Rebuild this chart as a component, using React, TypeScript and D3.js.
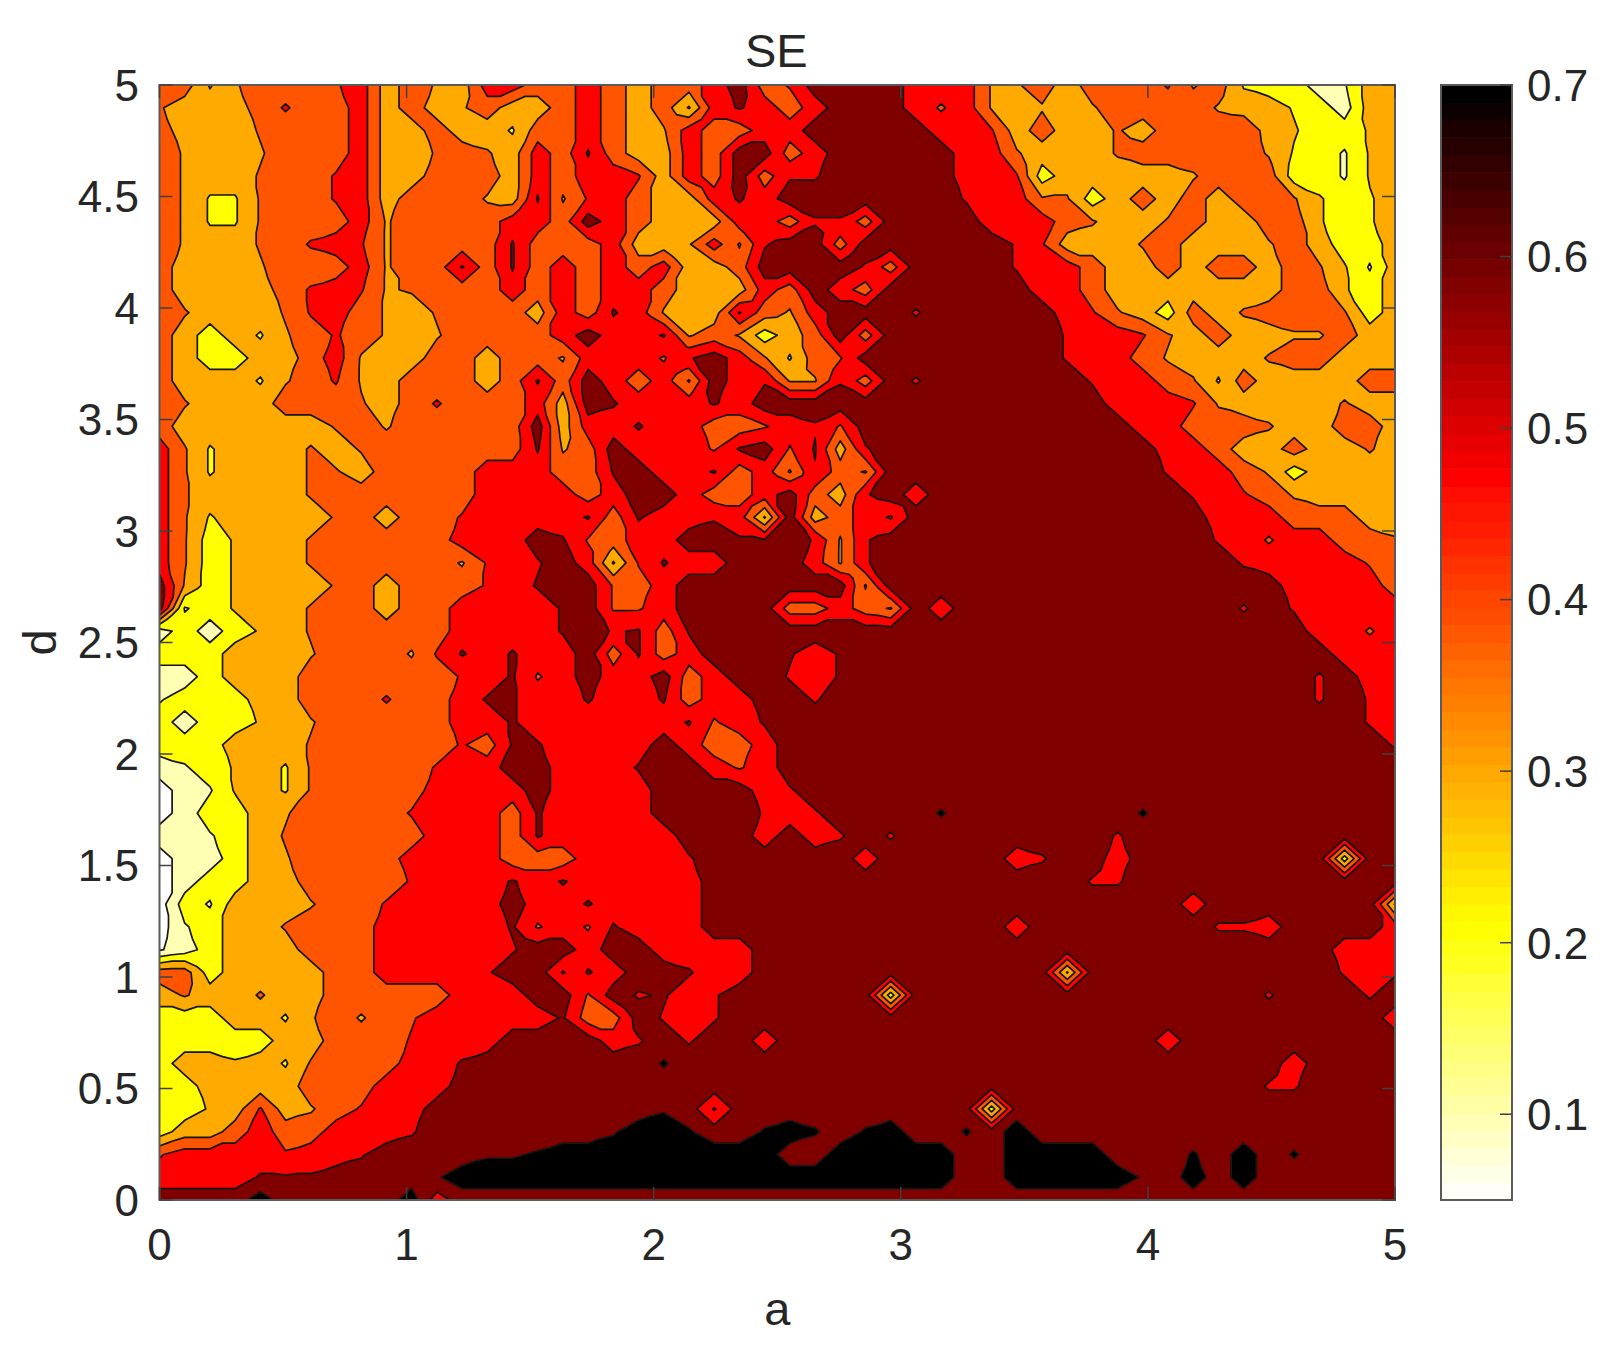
import React from "react";
import * as d3 from "d3";

// SE as a function of a (columns, 0..5) and d (rows, 5 at the top down to 0), 50 x 50 grid.
// Each character gives the level: a digit is the middle of a band,
// a lowercase letter sits just under the top of band a=0..h=7, an uppercase letter just above its bottom.
const seRows: string[] = [
  "44cd4 44e53 4d355 44543 44564 F6666 555dd 43444 Fd4c2 21b33",
  "E3334 F4453 43d43 34543 4c5G5 45666 5e5d3 d3d44 44d33 c2133",
  "4333E 44453 3433c 44543 d5445 56666 655F3 433E3 444e3 D22D3",
  "4d33d 44453 3E4E3 54G43 35466 45666 6655E 333E4 4444d c2bD3",
  "4d33E 44F53 34443 5455F 35464 ff666 6655F 23333 3d444 22bD3",
  "4dccE 44F53 444d3 GdF54 335G5 66666 66f55 EE234 34344 ED2c3",
  "4dccE 4445d 44445 54654 33355 4ff46 66655 54E33 E4334 4D2c3",
  "4d33E 4F5Fd 4444G 44453 3d5df 66466 6666f F333E 4333d 43223",
  "4333d 4445d 44G4G 45454 53346 666f4 6666f 55433 43443 4EDb3",
  "43333 4F5Fd E4445 45455 43335 46546 66666 55433 33333 44D23",
  "4E333 EF54d 3E444 354G5 d33G4 d5666 f6666 65FE3 243E4 44E23",
  "4323c d4F4d 3d444 45655 Gd4d2 34646 66666 6f55F E3433 dd433",
  "43223 345d3 34434 4d555 ef65E c4e66 66666 6f554 d333E 44333",
  "4333c d4Fd3 44434 G4654 5d65f ddf46 f6666 66f55 4Ec43 33344",
  "4E333 444E3 4F444 536G5 55G56 66666 66666 66655 5Fd33 33E33",
  "43333 33E4d 44444 6355G 5544e 5fe66 66666 66665 5444E 33443",
  "5Ec33 3E3E4 44444 Gd465 55eG6 eG3f6 66666 66666 55433 433E3",
  "5Ec33 3EE34 44455 544G6 55G45 df4d6 66666 66666 f554d 23333",
  "5E333 3E444 44455 55456 65445 643f6 56666 66666 6f5F4 d3333",
  "5Ec33 33E43 44F55 55G4G 55f5c 6345e 66666 66666 66555 44433",
  "5E2D3 3E444 44555 6Ge45 566GG 6fdf6 66666 66666 66f5e 5544E",
  "5E2D3 3E444 44dF5 f65cF G5566 65df6 66666 66666 666f5 555e4",
  "6d2D3 33E43 444F5 G66e4 56666 666d6 66666 66666 66666 55554",
  "6b2D3 3E443 44555 5G6ee 56666 4454d 65666 66666 666f6 f5555",
  "1212D 3E444 44555 5G6fG 4G666 66666 66666 66666 66666 655e5",
  "22233 3d444 dFG5G 5564G 45666 G5G66 66666 66666 66666 66555",
  "11233 34444 44F5G e5655 64566 f5G66 66666 66666 66666 6f655",
  "b2223 3444F 445GG 55G55 G4556 6f666 66666 66666 66666 6f6f5",
  "2122D 3d444 4455G 55555 5Ge5G 66666 66666 66666 66666 666f5",
  "22233 3E444 44F4G G5555 65445 66666 66666 66666 66666 6666f",
  "1b2D3 cE444 4F556 6555G 665e5 66666 66666 66666 66666 66666",
  "01bD3 cE444 45555 65555 66665 f6666 66666 66666 66666 66666",
  "01223 d4444 F5554 G5555 6666f 5f666 6H666 6666H 66666 66666",
  "11b23 E4444 45554 G5555 56665 65f6f 66666 666f6 66666 66666",
  "01123 d4444 55554 44555 5f666 66656 66665 f6656 66666 66266",
  "01223 34444 F555G 5G555 55666 66666 66666 66ff6 66666 66666",
  "02b33 3d44F 55556 55G55 55666 66666 66666 66666 65666 6666c",
  "0b233 E4445 5555G e5eG5 55666 66666 66665 66666 66ff5 66665",
  "a1233 34445 5555f 66566 55556 66666 66666 66666 66666 66555",
  "44233 33445 555f6 6eG56 6G556 66666 66666 6c666 66666 66f5f",
  "3E33E 33444 44555 66e6f G5f66 66662 66666 66666 6666f 666f6",
  "22233 cd4d4 e5555 5G446 f5f66 66666 66666 66666 66666 66665",
  "22222 33444 F5556 6665f 6f665 66666 66666 66666 56666 66666",
  "233D3 cE444 55G66 66666 H6666 66666 66666 66666 66666 56666",
  "22333 34445 55666 66666 66666 66666 66666 66666 6666f f6666",
  "22D3F 3d4F5 56666 66666 g6e66 66666 66626 66666 66666 66666",
  "23345 44555 f6666 666g7 7H66H 7H6H7 66H67 66666 66666 66666",
  "e5555 F55f6 666gg H7777 77777 66777 77667 77766 6H676 H6666",
  "5555G GG666 6g777 77777 77777 77777 77667 7777g 67676 66666",
  "66667 66666 75666 66666 66666 66666 66666 66666 66666 66666",
];

const bandThresholds = [0.5, 1.5, 2.5, 3.5, 4.5, 5.5, 6.5];
const bandColors = ["#ffffb4", "#ffff00", "#ffaa00", "#ff5500", "#ff0000", "#800000", "#000000"];
const baseColor = "#ffffff";

const xTicks = [0, 1, 2, 3, 4, 5];
const yTicks = [0, 0.5, 1, 1.5, 2, 2.5, 3, 3.5, 4, 4.5, 5];
const colorbarTicks = [0.1, 0.2, 0.3, 0.4, 0.5, 0.6, 0.7];
const colorbarDomain = [0.05, 0.7];
const colorbarStops = [0.7, 0.47, 0.21, 0.05];
const colorbarColors = ["#000000", "#ff0000", "#ffff00", "#ffffff"];
const colorbarSteps = 64;

const titleText = "SE";
const xLabel = "a";
const yLabel = "d";

const W = 1609;
const H = 1353;
const plot = { left: 159.5, right: 1395, top: 85, bottom: 1200 };
const bar = { left: 1441, right: 1512 };
const FONT = "'Liberation Sans', Arial, sans-serif";
const INK = "#262626";
const FS = 44;
const LABEL_FS = 47;

function decode(ch: string): number {
  if (ch >= "0" && ch <= "9") return +ch;
  const lower = ch.toLowerCase();
  const band = lower.charCodeAt(0) - 97;
  return ch === lower ? band + 0.4 : band - 0.4;
}

export default function App() {
  const rows = seRows.map((s) => s.replace(/ /g, ""));
  const ny = rows.length;
  const nx = rows[0].length;
  const at = (i: number, j: number) => {
    const r = rows[j];
    return decode(r[i] ?? r[r.length - 1]);
  };

  // Contour cells are split at their centres (median of the corners) so saddles resolve
  // on the cell's level while single-point spikes keep their straight diamond edges.
  const fx = 2 * nx - 1;
  const fy = 2 * ny - 1;
  const values: number[] = [];
  for (let j = 0; j < fy; j++) {
    for (let i = 0; i < fx; i++) {
      const i0 = Math.floor(i / 2);
      const i1 = Math.ceil(i / 2);
      const j0 = Math.floor(j / 2);
      const j1 = Math.ceil(j / 2);
      values.push(d3.median([at(i0, j0), at(i1, j0), at(i0, j1), at(i1, j1)]) as number);
    }
  }

  const xData = d3.scaleLinear().domain([0, 5]).range([plot.left, plot.right]);
  const yData = d3.scaleLinear().domain([0, 5]).range([plot.bottom, plot.top]);
  const xGrid = d3.scaleLinear().domain([0, fx - 1]).range([plot.left, plot.right]);
  const yGrid = d3.scaleLinear().domain([0, fy - 1]).range([plot.top, plot.bottom]);
  const yBar = d3.scaleLinear().domain(colorbarDomain).range([plot.bottom, plot.top]);
  const barColor = d3
    .scaleLinear<string>()
    .domain(colorbarStops)
    .range(colorbarColors)
    .clamp(true);

  const transform = d3.geoTransform({
    point(this: any, x: number, y: number) {
      this.stream.point(xGrid(x - 0.5), yGrid(y - 0.5));
    },
  });
  const path = d3.geoPath(transform as any);
  const contours = d3.contours().size([fx, fy]).thresholds(bandThresholds)(values);

  const stepVal = (colorbarDomain[1] - colorbarDomain[0]) / colorbarSteps;
  const tickLen = 13;

  return (
    <svg
      width={W}
      height={H}
      viewBox={`0 0 ${W} ${H}`}
      style={{ position: "absolute", left: 0, top: 0, display: "block", background: "#fff" }}
    >
      <defs>
        <clipPath id="plotClip">
          <rect x={plot.left} y={plot.top} width={plot.right - plot.left} height={plot.bottom - plot.top} />
        </clipPath>
        <filter id="soft" x="-2%" y="-2%" width="104%" height="104%">
          <feGaussianBlur stdDeviation="0.7" />
        </filter>
      </defs>

      <g filter="url(#soft)">
        <g clipPath="url(#plotClip)">
          <rect x={plot.left} y={plot.top} width={plot.right - plot.left} height={plot.bottom - plot.top} fill={baseColor} />
          {contours.map((c, i) => (
            <path
              key={i}
              d={path(c as any) ?? ""}
              fill={bandColors[i]}
              stroke="#141414"
              strokeWidth={1.7}
              strokeLinejoin="round"
            />
          ))}
        </g>

        <rect
          x={plot.left}
          y={plot.top}
          width={plot.right - plot.left}
          height={plot.bottom - plot.top}
          fill="none"
          stroke="#5a5a5a"
          strokeWidth={2}
        />
        {xTicks.map((t) => (
          <g key={t} stroke="#404040" strokeWidth={1.5}>
            <line x1={xData(t)} x2={xData(t)} y1={plot.bottom} y2={plot.bottom - tickLen} />
            <line x1={xData(t)} x2={xData(t)} y1={plot.top} y2={plot.top + tickLen} />
          </g>
        ))}
        {yTicks.map((t) => (
          <g key={t} stroke="#404040" strokeWidth={1.5}>
            <line x1={plot.left} x2={plot.left + tickLen} y1={yData(t)} y2={yData(t)} />
            <line x1={plot.right} x2={plot.right - tickLen} y1={yData(t)} y2={yData(t)} />
          </g>
        ))}

        {d3.range(colorbarSteps).map((i) => {
          const v0 = colorbarDomain[0] + i * stepVal;
          const v1 = v0 + stepVal;
          return (
            <rect
              key={i}
              x={bar.left}
              width={bar.right - bar.left}
              y={yBar(v1)}
              height={yBar(v0) - yBar(v1) + 0.6}
              fill={barColor((v0 + v1) / 2)}
            />
          );
        })}
        <rect
          x={bar.left}
          y={plot.top}
          width={bar.right - bar.left}
          height={plot.bottom - plot.top}
          fill="none"
          stroke="#5a5a5a"
          strokeWidth={2}
        />
        {colorbarTicks.map((t) => (
          <line key={t} x1={bar.right} x2={bar.right - 12} y1={yBar(t)} y2={yBar(t)} stroke="#404040" strokeWidth={1.5} />
        ))}
      </g>

      <g fontFamily={FONT} fontSize={FS} fill={INK}>
        {xTicks.map((t) => (
          <text key={t} x={xData(t)} y={1260} textAnchor="middle">
            {t}
          </text>
        ))}
        {yTicks.map((t) => (
          <text key={t} x={139} y={yData(t)} dy="0.36em" textAnchor="end">
            {t}
          </text>
        ))}
        {colorbarTicks.map((t) => (
          <text key={t} x={1527} y={yBar(t)} dy="0.36em" textAnchor="start">
            {t}
          </text>
        ))}
        <text x={(plot.left + plot.right) / 2 - 1} y={67} fontSize={LABEL_FS} textAnchor="middle">
          {titleText}
        </text>
        <text x={(plot.left + plot.right) / 2} y={1325} fontSize={LABEL_FS} textAnchor="middle">
          {xLabel}
        </text>
        <text
          transform={`translate(56, ${(plot.top + plot.bottom) / 2}) rotate(-90)`}
          fontSize={LABEL_FS}
          textAnchor="middle"
        >
          {yLabel}
        </text>
      </g>
    </svg>
  );
}
